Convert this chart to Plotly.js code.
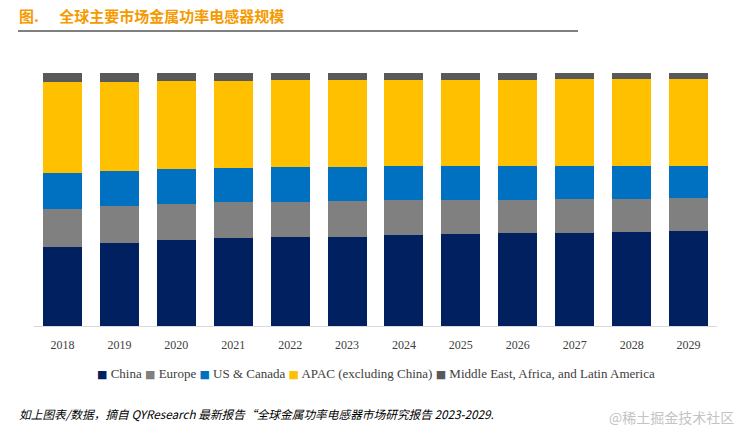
<!DOCTYPE html>
<html>
<head>
<meta charset="utf-8">
<script src="https://cdn.plot.ly/plotly-3.0.1.min.js"></script>
<style>
html,body{margin:0;padding:0;background:#fff;}
#chart{width:750px;height:434px;}
</style>
</head>
<body>
<div id="chart"></div>
<script>
// Categories (years)
var years = ['2018','2019','2020','2021','2022','2023','2024','2025','2026','2027','2028','2029'];
// Series names
var seriesNames = ['China','Europe','US & Canada','APAC (excluding China)','Middle East, Africa, and Latin America'];
// Market share estimates (%)
var china  = [31.2, 32.8, 34.0, 34.8, 35.2, 35.2, 36.0, 36.4, 36.8, 36.8, 37.2, 37.5];
var europe = [15.0, 14.6, 14.2, 14.2, 13.8, 14.2, 13.8, 13.4, 13.0, 13.4, 13.0, 13.0];
var usCan  = [14.1, 13.8, 13.8, 13.4, 13.8, 13.4, 13.4, 13.4, 13.4, 13.0, 13.0, 12.6];
var apac   = [36.1, 35.2, 34.8, 34.5, 34.4, 34.4, 34.0, 34.0, 34.0, 34.4, 34.4, 34.4];
var mea    = [3.6, 3.6, 3.2, 3.0, 2.8, 2.8, 2.8, 2.8, 2.8, 2.4, 2.4, 2.4];
var seriesValues = [china, europe, usCan, apac, mea];
var seriesColors = ['#002060', '#808080', '#0070C0', '#FFC000', '#595959'];

var titleText = '图.&nbsp;&nbsp;&nbsp;&nbsp;&nbsp;&nbsp;全球主要市场金属功率电感器规模';
var noteText = '如上图表/数据，摘自 QYResearch 最新报告“全球金属功率电感器市场研究报告 2023-2029.';
var watermark = '@稀土掘金技术社区';

var traces = seriesNames.map(function(name, i){
  return {
    type: 'bar',
    name: name,
    x: years,
    y: seriesValues[i],
    marker: {color: seriesColors[i], line: {width: 0}},
    hoverinfo: 'x+y+name'
  };
});

// Legend built as one text line with coloured squares
var legendParts = seriesNames.map(function(name, i){
  return '<span style="color:' + seriesColors[i] + ';font-family:DejaVu Sans;font-size:11px">■</span> ' + name;
});
var legendText = legendParts.join(' ');

var layout = {
  width: 750,
  height: 434,
  margin: {l: 34, r: 33, t: 73, b: 108},
  paper_bgcolor: '#ffffff',
  plot_bgcolor: '#ffffff',
  barmode: 'stack',
  barnorm: 'percent',
  bargap: 0.315,
  showlegend: false,
  xaxis: {
    type: 'category',
    showline: true,
    linecolor: '#D9D9D9',
    linewidth: 1,
    ticks: '',
    showgrid: false,
    zeroline: false,
    ticklabelstandoff: 8,
    tickfont: {family: 'Liberation Serif, Times New Roman, serif', size: 12, color: '#404040'}
  },
  yaxis: {
    range: [0, 100],
    visible: false,
    showgrid: false,
    zeroline: false,
    fixedrange: true
  },
  shapes: [
    {type: 'line', xref: 'paper', yref: 'paper',
     x0: -16/683, x1: 544/683, y0: (434-108-31)/253, y1: (434-108-31)/253,
     line: {color: '#000000', width: 1}}
  ],
  annotations: [
    {xref: 'paper', yref: 'paper', x: -17/683, y: (434-108-16)/253,
     xanchor: 'left', yanchor: 'middle', showarrow: false,
     text: '<b>' + titleText + '</b>',
     font: {family: 'Noto Sans CJK SC, sans-serif', size: 15, color: '#F59A00'}},
    {xref: 'paper', yref: 'paper', x: (376-34)/683, y: (434-108-373)/253,
     xanchor: 'center', yanchor: 'middle', showarrow: false,
     text: legendText,
     font: {family: 'Liberation Serif, Times New Roman, serif', size: 13, color: '#404040'}},
    {xref: 'paper', yref: 'paper', x: -17/683, y: (434-108-413)/253,
     xanchor: 'left', yanchor: 'middle', showarrow: false,
     text: '<i>' + noteText + '</i>',
     font: {family: 'Noto Sans CJK SC, sans-serif', size: 11.7, color: '#000000'}},
    {xref: 'paper', yref: 'paper', x: (736-34)/683, y: (434-108-417)/253,
     xanchor: 'right', yanchor: 'middle', showarrow: false,
     text: watermark,
     font: {family: 'Noto Sans CJK SC, sans-serif', size: 14, color: '#C4C4C4'}}
  ]
};

Plotly.newPlot('chart', traces, layout, {displayModeBar: false, staticPlot: true});
</script>
</body>
</html>
